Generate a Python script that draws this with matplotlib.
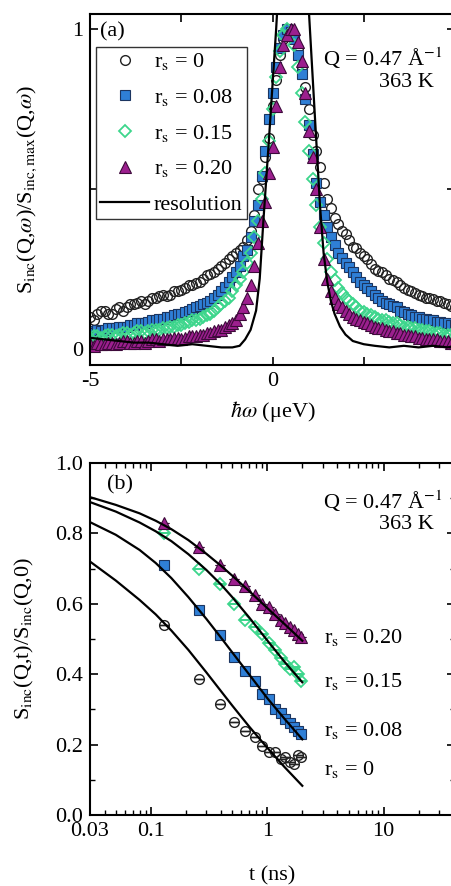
import numpy as np
import matplotlib
matplotlib.use('Agg')
from matplotlib import pyplot as plt
from matplotlib.ticker import FixedLocator, NullFormatter, LogLocator

plt.rcParams['font.family'] = ['Liberation Serif', 'DejaVu Serif']
plt.rcParams['mathtext.fontset'] = 'stix'
plt.rcParams['font.size'] = 16

# ---- panel (a): normalised S(Q,w), energy channels in ueV ----
w = [-5.0, -4.9, -4.8, -4.7, -4.6, -4.5, -4.4, -4.3, -4.2, -4.1,
     -4.0, -3.9, -3.8, -3.7, -3.6, -3.5, -3.4, -3.3, -3.2, -3.1,
     -3.0, -2.9, -2.8, -2.7, -2.6, -2.5, -2.4, -2.3, -2.2, -2.1,
     -2.0, -1.9, -1.8, -1.7, -1.6, -1.5, -1.4, -1.3, -1.2, -1.1,
     -1.0, -0.9, -0.8, -0.7, -0.6, -0.5, -0.4, -0.3, -0.2, -0.1,
     0.0, 0.1, 0.2, 0.3, 0.4, 0.5, 0.6, 0.7, 0.8, 0.9,
     1.0, 1.1, 1.2, 1.3, 1.4, 1.5, 1.6, 1.7, 1.8, 1.9,
     2.0, 2.1, 2.2, 2.3, 2.4, 2.5, 2.6, 2.7, 2.8, 2.9,
     3.0, 3.1, 3.2, 3.3, 3.4, 3.5, 3.6, 3.7, 3.8, 3.9,
     4.0, 4.1, 4.2, 4.3, 4.4, 4.5, 4.6, 4.7, 4.8, 4.9,
     5.0]
s_r0 = [0.10, 0.09, 0.11, 0.12, 0.12, 0.11, 0.11, 0.125, 0.13, 0.12,
        0.13, 0.14, 0.14, 0.145, 0.15, 0.14, 0.15, 0.16, 0.16, 0.165,
        0.17, 0.165, 0.17, 0.18, 0.18, 0.185, 0.19, 0.20, 0.20, 0.205,
        0.21, 0.22, 0.23, 0.235, 0.24, 0.25, 0.26, 0.27, 0.28, 0.29,
        0.30, 0.31, 0.32, 0.34, 0.37, 0.42, 0.50, 0.53, 0.60, 0.66,
        0.76, 0.84, 0.92, 0.97, 0.99, 0.99, 0.97, 0.94, 0.88, 0.82,
        0.75, 0.67, 0.62, 0.57, 0.52, 0.47, 0.44, 0.41, 0.39, 0.37,
        0.36, 0.34, 0.32, 0.315, 0.30, 0.29, 0.28, 0.265, 0.25, 0.245,
        0.24, 0.23, 0.22, 0.215, 0.21, 0.20, 0.19, 0.185, 0.18, 0.175,
        0.17, 0.165, 0.16, 0.16, 0.155, 0.15, 0.15, 0.145, 0.14, 0.135,
        0.13]
s_r08 = [0.055, 0.05, 0.06, 0.055, 0.06, 0.065, 0.065, 0.065, 0.07, 0.07,
         0.07, 0.075, 0.075, 0.08, 0.08, 0.08, 0.085, 0.09, 0.09, 0.095,
         0.095, 0.10, 0.10, 0.105, 0.11, 0.11, 0.115, 0.12, 0.125, 0.13,
         0.135, 0.14, 0.145, 0.15, 0.16, 0.17, 0.18, 0.195, 0.21, 0.225,
         0.24, 0.26, 0.29, 0.31, 0.35, 0.40, 0.45, 0.54, 0.62, 0.72,
         0.80, 0.88, 0.94, 0.98, 1.00, 0.99, 0.97, 0.92, 0.86, 0.78,
         0.70, 0.61, 0.52, 0.46, 0.42, 0.38, 0.35, 0.325, 0.30, 0.285,
         0.27, 0.255, 0.24, 0.225, 0.21, 0.20, 0.19, 0.18, 0.17, 0.16,
         0.15, 0.145, 0.14, 0.135, 0.13, 0.12, 0.115, 0.11, 0.105, 0.10,
         0.10, 0.095, 0.095, 0.09, 0.09, 0.085, 0.085, 0.08, 0.08, 0.075,
         0.075]
s_r15 = [0.035, 0.04, 0.04, 0.035, 0.04, 0.045, 0.045, 0.04, 0.045, 0.05,
         0.05, 0.045, 0.05, 0.055, 0.055, 0.05, 0.055, 0.06, 0.06, 0.06,
         0.065, 0.065, 0.07, 0.07, 0.075, 0.075, 0.08, 0.085, 0.09, 0.09,
         0.095, 0.10, 0.105, 0.11, 0.12, 0.13, 0.14, 0.15, 0.16, 0.18,
         0.20, 0.22, 0.24, 0.27, 0.30, 0.35, 0.40, 0.47, 0.55, 0.65,
         0.75, 0.85, 0.93, 0.98, 1.00, 0.99, 0.95, 0.88, 0.80, 0.71,
         0.62, 0.53, 0.45, 0.38, 0.33, 0.28, 0.24, 0.215, 0.19, 0.175,
         0.16, 0.15, 0.14, 0.13, 0.12, 0.115, 0.11, 0.105, 0.10, 0.095,
         0.09, 0.09, 0.085, 0.08, 0.08, 0.075, 0.07, 0.07, 0.065, 0.065,
         0.06, 0.06, 0.055, 0.055, 0.05, 0.05, 0.05, 0.045, 0.045, 0.045,
         0.04]
s_r20 = [0.015, 0.01, 0.02, 0.015, 0.015, 0.02, 0.02, 0.015, 0.02, 0.025,
         0.025, 0.02, 0.02, 0.025, 0.025, 0.02, 0.025, 0.03, 0.03, 0.025,
         0.03, 0.03, 0.03, 0.035, 0.035, 0.03, 0.035, 0.04, 0.04, 0.04,
         0.045, 0.045, 0.05, 0.05, 0.055, 0.06, 0.06, 0.07, 0.075, 0.08,
         0.09, 0.11, 0.13, 0.16, 0.20, 0.26, 0.33, 0.40, 0.46, 0.55,
         0.63, 0.76, 0.88, 0.95, 0.98, 1.00, 1.00, 0.96, 0.90, 0.80,
         0.68, 0.60, 0.50, 0.38, 0.28, 0.22, 0.18, 0.16, 0.14, 0.13,
         0.12, 0.11, 0.10, 0.095, 0.09, 0.085, 0.08, 0.075, 0.07, 0.065,
         0.065, 0.06, 0.055, 0.055, 0.05, 0.05, 0.045, 0.045, 0.04, 0.04,
         0.035, 0.035, 0.03, 0.03, 0.03, 0.03, 0.025, 0.025, 0.025, 0.02,
         0.02]
res_w = [-5.0, -4.6, -4.2, -3.8, -3.4, -3.0, -2.6, -2.2, -1.8, -1.4, -1.1, -0.9, -0.75, -0.6,
         -0.45, -0.35, -0.25, -0.1, 0.1, 0.3, 0.5, 0.7, 0.9, 1.0, 1.1, 1.2, 1.3, 1.4, 1.5,
         1.6, 1.7, 1.85, 2.0, 2.2, 2.5, 2.8, 3.2, 3.6, 4.0, 4.4, 4.8, 5.0]
res_v = [0.035, 0.03, 0.025, 0.02, 0.02, 0.015, 0.01, 0.015, 0.01, 0.005, 0.005, 0.01, 0.03,
         0.06, 0.12, 0.22, 0.40, 0.65, 1.0, 1.4, 1.5, 1.4, 1.15, 1.05, 0.85, 0.65, 0.45, 0.30,
         0.21, 0.15, 0.11, 0.07, 0.045, 0.025, 0.015, 0.01, 0.005, 0.01, 0.005, 0.01, 0.005, 0.01]

# ---- panel (b): S(Q,t) ----
t = [0.13, 0.26, 0.39, 0.52, 0.65, 0.78, 0.91, 1.04, 1.17, 1.30, 1.43, 1.56, 1.69, 1.82, 1.95]
f_r0 = [0.54, 0.385, 0.315, 0.265, 0.24, 0.222, 0.195, 0.18, 0.18, 0.16, 0.165, 0.15, 0.145, 0.17, 0.165]
f_r08 = [0.71, 0.583, 0.51, 0.45, 0.41, 0.38, 0.345, 0.33, 0.30, 0.29, 0.273, 0.262, 0.25, 0.24, 0.23]
f_r15 = [0.80, 0.70, 0.655, 0.60, 0.555, 0.535, 0.515, 0.49, 0.47, 0.445, 0.43, 0.415, 0.42, 0.40, 0.38]
f_r20 = [0.83, 0.76, 0.71, 0.67, 0.65, 0.625, 0.60, 0.59, 0.57, 0.555, 0.545, 0.535, 0.525, 0.515, 0.505]
t_fit = [0.03, 0.05, 0.08, 0.11, 0.15, 0.21, 0.3, 0.4, 0.5, 0.7, 1.0, 1.4, 2.0]
fit_r0 = [0.72, 0.666, 0.611, 0.570, 0.524, 0.469, 0.405, 0.352, 0.311, 0.251, 0.191, 0.137, 0.083]
fit_r08 = [0.832, 0.796, 0.753, 0.716, 0.673, 0.619, 0.557, 0.504, 0.462, 0.399, 0.332, 0.274, 0.215]
fit_r15 = [0.889, 0.862, 0.831, 0.806, 0.778, 0.741, 0.696, 0.655, 0.619, 0.561, 0.496, 0.436, 0.377]
fit_r20 = [0.903, 0.881, 0.857, 0.836, 0.812, 0.781, 0.742, 0.708, 0.680, 0.636, 0.588, 0.543, 0.495]

labels = [r'r$_\mathrm{s}$ = 0', r'r$_\mathrm{s}$ = 0.08', r'r$_\mathrm{s}$ = 0.15', r'r$_\mathrm{s}$ = 0.20']
styles = [dict(marker='o', ms=7, mfc='none', mec='#222222', mew=1.0),
          dict(marker='s', ms=6.5, mfc='#2f7fd6', mec='#1b3560', mew=0.8),
          dict(marker='D', ms=6, mfc='none', mec='#3dd68c', mew=1.3),
          dict(marker='^', ms=8, mfc='#9c1f8e', mec='#3d0a3a', mew=0.8)]

fig = plt.figure(figsize=(4.51, 8.86), dpi=100)
ax1 = fig.add_axes([90 / 451, 1 - 365 / 886, 365 / 451, 351 / 886])
ax2 = fig.add_axes([90 / 451, 1 - 815 / 886, 365 / 451, 352 / 886])

for y, lab, st in zip([s_r0, s_r08, s_r15, s_r20], labels, styles):
    ax1.plot(w, y, ls='none', label=lab, **st)
ax1.plot(res_w, res_v, color='black', lw=1.6, label='resolution', zorder=5)

ax1.set_xlim(-5, 5)
ax1.set_ylim(-0.05, 1.047)
ax1.set_xticks([-5, -2.5, 0, 2.5, 5])
ax1.set_xticklabels(['-5', '', '0', '', '5'])
ax1.set_yticks([0, 0.5, 1])
ax1.set_yticklabels(['0', '', '1'])
ax1.set_xlabel(r'$\hbar\omega$ (μeV)', labelpad=6)
ax1.set_ylabel(r'S$_\mathrm{inc}$(Q,$\omega$)/S$_\mathrm{inc,max}$(Q,$\omega$)', labelpad=24)
ax1.text(0.027, 0.949, '(a)', transform=ax1.transAxes, va='center', ha='left')
ax1.text(0.803, 0.875, 'Q = 0.47 Å$^{-1}$', transform=ax1.transAxes, va='center', ha='center')
ax1.text(0.866, 0.805, '363 K', transform=ax1.transAxes, va='center', ha='center')
leg = ax1.legend(loc='upper left', bbox_to_anchor=(0.0165, 0.906), borderaxespad=0,
                 numpoints=1, handlelength=2.2, handletextpad=0.2, labelspacing=0.66,
                 borderpad=0.2, fancybox=False, edgecolor='#333333', framealpha=1)
leg.get_frame().set_linewidth(1.0)
leg.set_zorder(10)

# markers with a zero-height error bar: the cap shows as a line through each point
for y, st in zip([f_r0, f_r08, f_r15, f_r20], styles):
    ax2.errorbar(t, y, yerr=0, ls='none', capsize=3.5, elinewidth=0.8, capthick=0.8,
                 ecolor=st['mec'], **st)
for y in [fit_r0, fit_r08, fit_r15, fit_r20]:
    ax2.plot(t_fit, y, color='black', lw=1.6, zorder=5)

ax2.set_xscale('log')
ax2.set_xlim(0.03, 41)
ax2.set_ylim(0, 1)
ax2.xaxis.set_major_locator(FixedLocator([0.03, 0.1, 1, 10]))
ax2.set_xticklabels(['0.03', '0.1', '1', '10'])
ax2.xaxis.set_minor_locator(LogLocator(base=10, subs=np.arange(2, 10), numticks=20))
ax2.xaxis.set_minor_formatter(NullFormatter())
ax2.set_yticks(np.arange(0, 1.01, 0.2))
ax2.set_yticklabels(['0.0', '0.2', '0.4', '0.6', '0.8', '1.0'])
ax2.set_yticks(np.arange(0.1, 1.0, 0.2), minor=True)
ax2.set_xlabel('t (ns)', labelpad=18)
ax2.set_ylabel(r'S$_\mathrm{inc}$(Q,t)/S$_\mathrm{inc}$(Q,0)', labelpad=14)
ax2.text(0.047, 0.9375, '(b)', transform=ax2.transAxes, va='center', ha='left')
ax2.text(0.803, 0.89, 'Q = 0.47 Å$^{-1}$', transform=ax2.transAxes, va='center', ha='center')
ax2.text(0.866, 0.825, '363 K', transform=ax2.transAxes, va='center', ha='center')
for yy, lab in zip([0.128, 0.241, 0.378, 0.503], labels):
    ax2.text(3.1, yy, lab, va='center', ha='left')

for ax in (ax1, ax2):
    ax.tick_params(which='both', direction='in', top=True, right=True)
    ax.tick_params(which='major', length=6, width=1.2, pad=5)
    ax.tick_params(which='minor', length=3.5, width=1.0)
    for sp in ax.spines.values():
        sp.set_linewidth(1.5)

fig.savefig('out.png', dpi=100)
